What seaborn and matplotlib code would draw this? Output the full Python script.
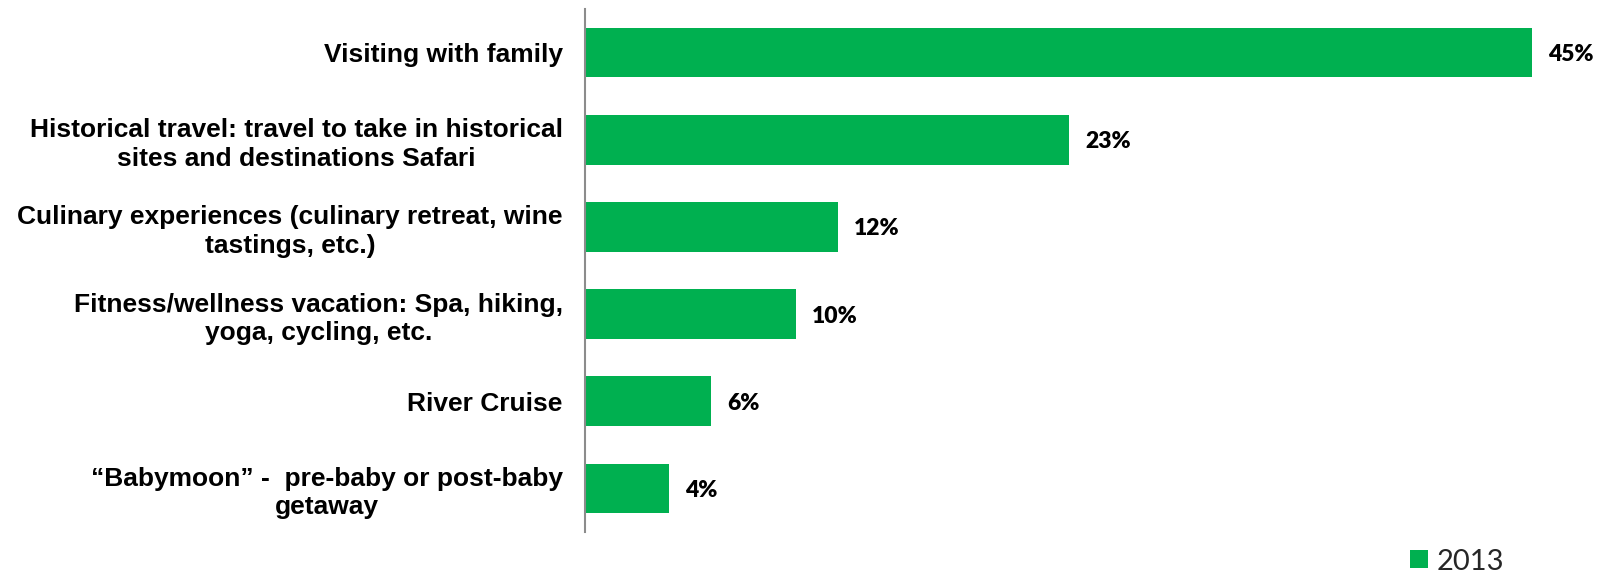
import matplotlib
matplotlib.use("Agg")
import matplotlib.pyplot as plt
import seaborn as sns
import pandas as pd
from matplotlib.patches import Patch

categories = [
    "Visiting with family",
    "Historical travel: travel to take in historical\nsites and destinations Safari",
    "Culinary experiences (culinary retreat, wine\ntastings, etc.)",
    "Fitness/wellness vacation: Spa, hiking,\nyoga, cycling, etc.",
    "River Cruise",
    "\u201cBabymoon\u201d -  pre-baby or post-baby\ngetaway",
]
values_2013 = [45, 23, 12, 10, 6, 4]
value_labels = ["45%", "23%", "12%", "10%", "6%", "4%"]
series_name = "2013"

GREEN = "#00B050"

sns.set_theme(style="white")
plt.rcParams["font.family"] = ["Liberation Sans", "DejaVu Sans"]

df = pd.DataFrame({"category": categories, "value": values_2013})

fig = plt.figure(figsize=(16.04, 5.73), dpi=100)
ax = fig.add_axes([0.3647, 0.0716, 0.6353, 0.9127])

sns.barplot(data=df, x="value", y="category", color=GREEN, saturation=1,
            width=0.57, ax=ax, edgecolor="none")

ax.set_xlim(0, 48.4)
ax.set_ylim(len(categories) - 0.5, -0.5)
ax.set_xlabel("")
ax.set_ylabel("")
ax.set_xticks([])

for side in ("top", "right", "bottom"):
    ax.spines[side].set_visible(False)
ax.spines["left"].set_color("#8c8c8c")
ax.spines["left"].set_linewidth(1.5)

ax.tick_params(axis="y", length=0, pad=16)
for lbl in ax.get_yticklabels():
    lbl.set_fontsize(19)
    lbl.set_fontweight("bold")
    lbl.set_color("black")
    lbl.set_multialignment("center")
    lbl.set_linespacing(1.24)

for bar, txt in zip(ax.patches, value_labels):
    x = bar.get_width()
    y = bar.get_y() + bar.get_height() / 2
    ax.annotate(txt, (x, y), xytext=(16, -2), textcoords="offset pixels",
                ha="left", va="center", fontsize=16.5, fontweight="heavy",
                family=["Lato", "DejaVu Sans"], color="black")

handle = Patch(facecolor=GREEN, edgecolor="none", label=series_name)
fig.legend(handles=[handle], loc="lower left", bbox_to_anchor=(0.872, -0.023),
           frameon=False, prop={"family": ["Lato", "DejaVu Sans"], "size": 21},
           handlelength=0.6, handleheight=0.6, handletextpad=0.3, borderaxespad=0)

fig.savefig("out.png", dpi=100, facecolor="white")
